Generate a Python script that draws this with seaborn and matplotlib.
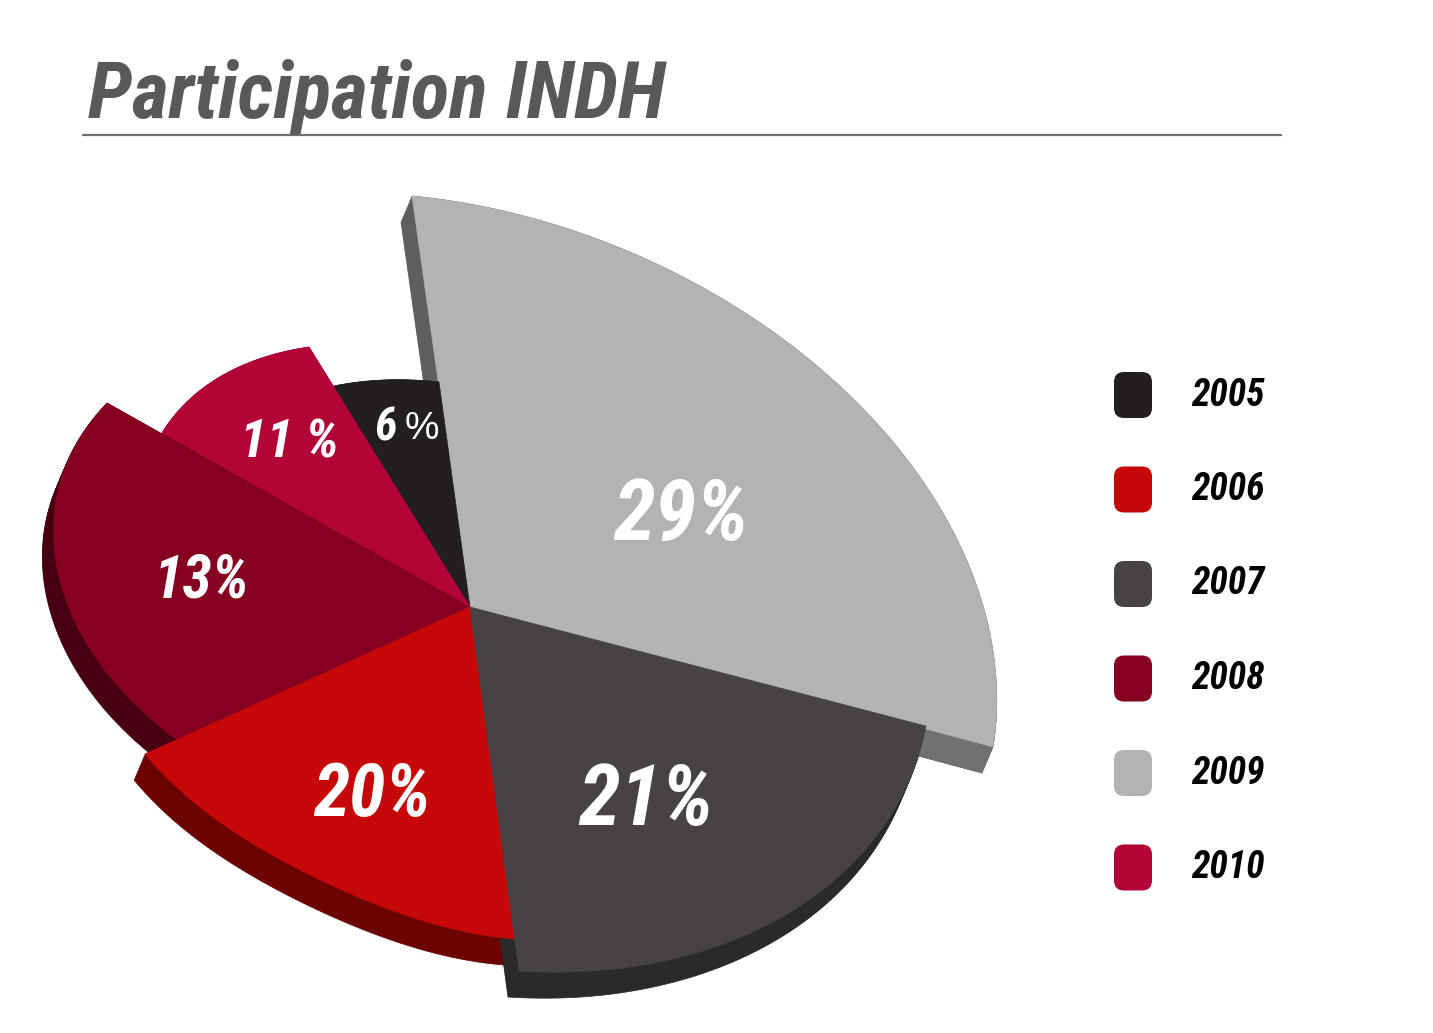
"""
Participation INDH
Exploded pie with a hand drawn 3D look
"""

import numpy as np
import pandas as pd
import matplotlib
matplotlib.use("Agg")
import matplotlib.pyplot as plt
from matplotlib.patches import FancyBboxPatch
import seaborn as sns

sns.set_theme(style="white")

CONDENSED = ["Roboto Condensed", "Liberation Sans", "DejaVu Sans"]
plt.rcParams["font.family"] = CONDENSED

########################################################
# data

YEARS = ["2005", "2006", "2007", "2008", "2009", "2010"]
SHARES = [6, 20, 21, 13, 29, 11]
SLICE_ORDER = ["2005", "2009", "2007", "2006", "2008", "2010"]
LABELS = ["6", "20%", "21%", "13%", "29%", "11 %"]
TITLE = "Participation INDH"

########################################################
# styles

TOP_COLORS = ["#231f20", "#c70808", "#474344", "#850021", "#b3b3b3", "#b30437"]
SIDE_COLORS = ["#231f20", "#6b0300", "#2b2929", "#470011", "#5f5f5f", "#7a0025"]

CENTER = np.array([470, 607])
DEPTH = np.array([-11, 26])

# how each pie wedge is stretched to fake the perspective, in SLICE_ORDER
VIEW = [
    [[292.5, 11.9], [64.6, -217.9]],
    [[527.9, 19.3], [98.6, -400.9]],
    [[460.5, 18.5], [82.3, -355.8]],
    [[359.1, 7.5], [2.3, -335.3]],
    [[361.5, -69.3], [60.8, -421.7]],
    [[330.4, 4.9], [94.2, -245.8]],
]
SWELL = [0, -7, 0, -31, 57, 0]
TOP_DRAW_ORDER = ["2009", "2005", "2010", "2008", "2006", "2007"]

LABEL_PLACES = {
    "2005": (386, 428, 33),
    "2006": (372, 796, 53),
    "2007": (646, 802, 61),
    "2008": (201, 580, 43),
    "2009": (681, 517, 61),
    "2010": (289, 443, 39),
}

########################################################


def slice_outline(wedge, view, swell):

    angles = np.radians(np.linspace(wedge.theta1, wedge.theta2, 120))

    arc = np.column_stack([np.cos(angles), np.sin(angles)]) @ np.array(view).T

    bulge = swell * np.sin(np.linspace(0, np.pi, 120))

    arc = arc + (bulge / np.hypot(arc[:, 0], arc[:, 1]))[:, None] * arc

    return np.vstack([[0, 0], arc]) + CENTER


df = pd.DataFrame(
    {
        "share": SHARES,
        "top": sns.color_palette(TOP_COLORS),
        "side": sns.color_palette(SIDE_COLORS),
    },
    index=YEARS,
)

fig = plt.figure(figsize=(14.33, 10.33), dpi=100)

ax = fig.add_axes([0, 0, 1, 1])

wedges, _ = ax.pie(
    df.loc[SLICE_ORDER, "share"],
    startangle=120,
    counterclock=False
)

outlines = {}

for year, wedge, view, swell in zip(SLICE_ORDER, wedges, VIEW, SWELL):

    outlines[year] = slice_outline(wedge, view, swell)

    wedge.set_visible(False)

ax.set_aspect("auto")
ax.set_xlim(0, 1433)
ax.set_ylim(1033, 0)
ax.axis("off")

########################################################
# sides first, the tops cover most of them

for year in TOP_DRAW_ORDER:

    for step in np.linspace(1, 0, 24):

        ax.fill(
            *(outlines[year] + step * DEPTH).T,
            color=df.loc[year, "side"],
            lw=0.5,
            zorder=1
        )

# the right end of the big slice catches more light
for step in np.linspace(1, 0, 24):

    patch = ax.fill(
        *(outlines["2009"] + step * DEPTH).T,
        color="#717171",
        lw=0.5,
        zorder=1.5
    )[0]

    patch.set_clip_box(
        ax.transData.transform_bbox(
            matplotlib.transforms.Bbox([[880, 700], [1033, 800]])
        )
    )

for order, year in enumerate(TOP_DRAW_ORDER):

    ax.fill(
        *outlines[year].T,
        color=df.loc[year, "top"],
        lw=0.4,
        zorder=2 + order
    )

########################################################
# labels

for year, label in zip(YEARS, LABELS):

    x, y, size = LABEL_PLACES[year]

    ax.text(
        x, y, label,
        color="white",
        fontsize=size,
        fontweight="bold",
        fontstyle="italic",
        ha="center",
        va="center",
        zorder=10
    )

ax.text(
    422, 429, "%",
    color="white",
    fontsize=28,
    family=["Liberation Sans", "DejaVu Sans"],
    ha="center",
    va="center",
    zorder=10
)

########################################################
# title and rule

ax.text(
    88, 117, TITLE,
    color="#58595b",
    fontsize=57.5,
    fontweight="bold",
    fontstyle="italic",
    ha="left",
    va="baseline"
)

ax.plot([83, 1281], [134.5, 134.5], color="#6d6e71", lw=1.6)

########################################################
# legend

for i, year in enumerate(YEARS):

    y = 372 + i * 94.5

    ax.add_patch(
        FancyBboxPatch(
            (1124, y + 10),
            18,
            26,
            boxstyle="round,pad=10,rounding_size=10",
            facecolor=df.loc[year, "top"],
            edgecolor="none"
        )
    )

    ax.text(
        1228, y + 23, year,
        color="black",
        fontsize=27,
        fontweight="bold",
        fontstyle="italic",
        ha="center",
        va="center"
    )

fig.savefig("out.png", dpi=100)
